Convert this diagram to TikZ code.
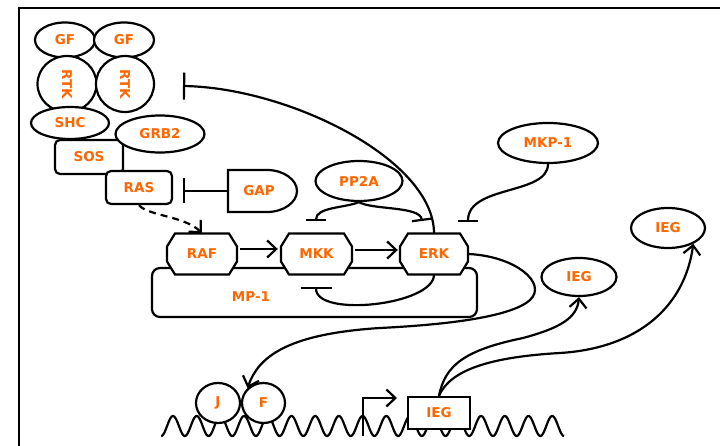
\documentclass[tikz,border=0pt]{standalone}
\usepackage{fontspec}
\newfontfamily\lblfont{DejaVu Sans}
\usetikzlibrary{shapes.geometric,arrows.meta}
\definecolor{lbl}{RGB}{255,102,0}
\tikzset{
  lab/.style={font=\lblfont\bfseries\fontsize{13.5}{15}\selectfont, text=lbl, inner sep=0pt},
  ln/.style={line width=2.2pt, draw=black},
  oval/.style={lab, ellipse, ln, fill=white},
  rbox/.style={lab, rectangle, ln, fill=white, rounded corners=5pt},
  sbox/.style={lab, rectangle, ln, fill=white, sharp corners},
  hole/.style={lab, rectangle},
  inh/.style={ln, -{Bar[width=#1]}},
  act/.style={ln, -{Straight Barb[length=9pt,width=17pt]}},
}
\newcommand\octnode[5]{%
  \filldraw[ln, fill=white] (#2-#4+8,#3-20.5) -- (#2+#4-8,#3-20.5) -- (#2+#4,#3-7.5) -- (#2+#4,#3+7.5) -- (#2+#4-8,#3+20.5) -- (#2-#4+8,#3+20.5) -- (#2-#4,#3+7.5) -- (#2-#4,#3-7.5) -- cycle;
  \node[lab, minimum width=#4*2pt, minimum height=41pt] (#1) at (#2,#3) {#5};}
\begin{document}
\begin{tikzpicture}[x=1pt,y=-1pt]
\useasboundingbox (0,0) rectangle (720,446);
\fill[white] (0,0) rectangle (720,446);
\draw[line width=2.4pt] (19,446) -- (19,8) -- (720,8);

% receptor complex
\node[oval, minimum width=60pt, minimum height=35pt] (gf1) at (65,40) {GF};
\node[oval, minimum width=60pt, minimum height=35pt] (gf2) at (124,40) {GF};
\node[oval, minimum width=59pt, minimum height=56pt] (rtk1) at (67,84) {\rotatebox{-90}{RTK}};
\node[oval, minimum width=58pt, minimum height=56pt] (rtk2) at (125,84) {\rotatebox{-90}{RTK}};
\node[oval, minimum width=78pt, minimum height=32pt] (shc) at (70,123) {SHC};
\node[rbox, minimum width=68pt, minimum height=34pt] (sos) at (89,157) {SOS};
\node[oval, minimum width=89pt, minimum height=37pt] (grb2) at (160,134) {GRB2};
\node[rbox, minimum width=66pt, minimum height=33pt] (ras) at (139,187.5) {RAS};

% GAP
\draw[ln] (228,170) -- (267,170) .. controls (284,170) and (297,180) .. (297,191) .. controls (297,202) and (284,212) .. (267,212) -- (228,212) -- cycle;
\node[hole, minimum width=62pt, minimum height=42pt] (gap) at (259,191) {GAP};

\node[oval, minimum width=87pt, minimum height=40pt] (pp2a) at (359,181) {PP2A};
\node[oval, minimum width=100pt, minimum height=40pt] (mkp) at (548,143) {MKP-1};

% MP-1 scaffold and kinases
\node[rbox, rounded corners=8pt, minimum width=325pt, minimum height=49pt] (mp1) at (314.5,292.5) {};
\node[lab] (mp1lbl) at (251,297) {MP-1};
\octnode{raf}{202}{254}{35}{RAF}
\octnode{mkk}{316.5}{254}{35.5}{MKK}
\octnode{erk}{434}{254}{34}{ERK}

\node[oval, minimum width=75pt, minimum height=38pt] (ieg2) at (579,277) {IEG};
\node[oval, minimum width=74pt, minimum height=40pt] (ieg3) at (668,228) {IEG};

% DNA
\draw[ln] plot[domain=161.15:564.05, samples=500] (\x,{426-10*cos(15.19*(\x-173))});
\node[oval, minimum width=44pt, minimum height=40pt] (jn) at (218,403) {J};
\node[oval, minimum width=43pt, minimum height=40pt] (fn) at (263.5,403) {F};
\node[sbox, minimum width=62pt, minimum height=32pt] (iegbox) at (439,413) {IEG};

% free ends
\coordinate (rtkbar) at (183,86);
\coordinate (gapbar) at (183,191);
\coordinate (mkkbar) at (316,221);
\coordinate (erkbar) at (422,221);
\coordinate (mkpbar) at (468,222);
\coordinate (mp1bar) at (316,287);
\coordinate (tss) at (363,436);
\coordinate (tsstip) at (397,398);

% activations
\draw[act, dash pattern=on 7pt off 5pt] (ras.south) .. controls (148,216) and (185,216) .. (raf.north);
\draw[act] ([xshift=3pt,yshift=5pt]raf.east) -- ([xshift=-3pt,yshift=5pt]mkk.west);
\draw[act] ([xshift=3pt,yshift=4pt]mkk.east) -- ([xshift=-2pt,yshift=4pt]erk.west);
\draw[act] (erk.east) .. controls (515,256) and (548,283) .. (530,300) .. controls (510,318) and (440,325) .. (380,328) .. controls (285,334) and (258,358) .. (fn.north west);
\draw[act] (iegbox.north) .. controls (445,365) and (465,350) .. (523,338) .. controls (560,328) and (577,318) .. (ieg2.south);
\draw[act] (iegbox.north) .. controls (450,370) and (490,357) .. (560,353) .. controls (640,348) and (685,305) .. (ieg3.-32);
\draw[act] (tss) |- (tsstip);

% inhibitions
\draw[inh=27pt] (erk.north) .. controls (434,160) and (290,88) .. (rtkbar);
\draw[inh=25pt] (gap.west) -- (gapbar);
\draw[inh=20pt] (pp2a.south) .. controls (345,208) and (316,207) .. (mkkbar);
\draw[inh=20pt] (pp2a.south) .. controls (372,210) and (420,206) .. (erkbar);
\draw[inh=20pt] (mkp.south) .. controls (548,195) and (468,185) .. (mkpbar);
\draw[inh=31pt] (erk.south) .. controls (434,305) and (316,318) .. (mp1bar);
\end{tikzpicture}
\end{document}
